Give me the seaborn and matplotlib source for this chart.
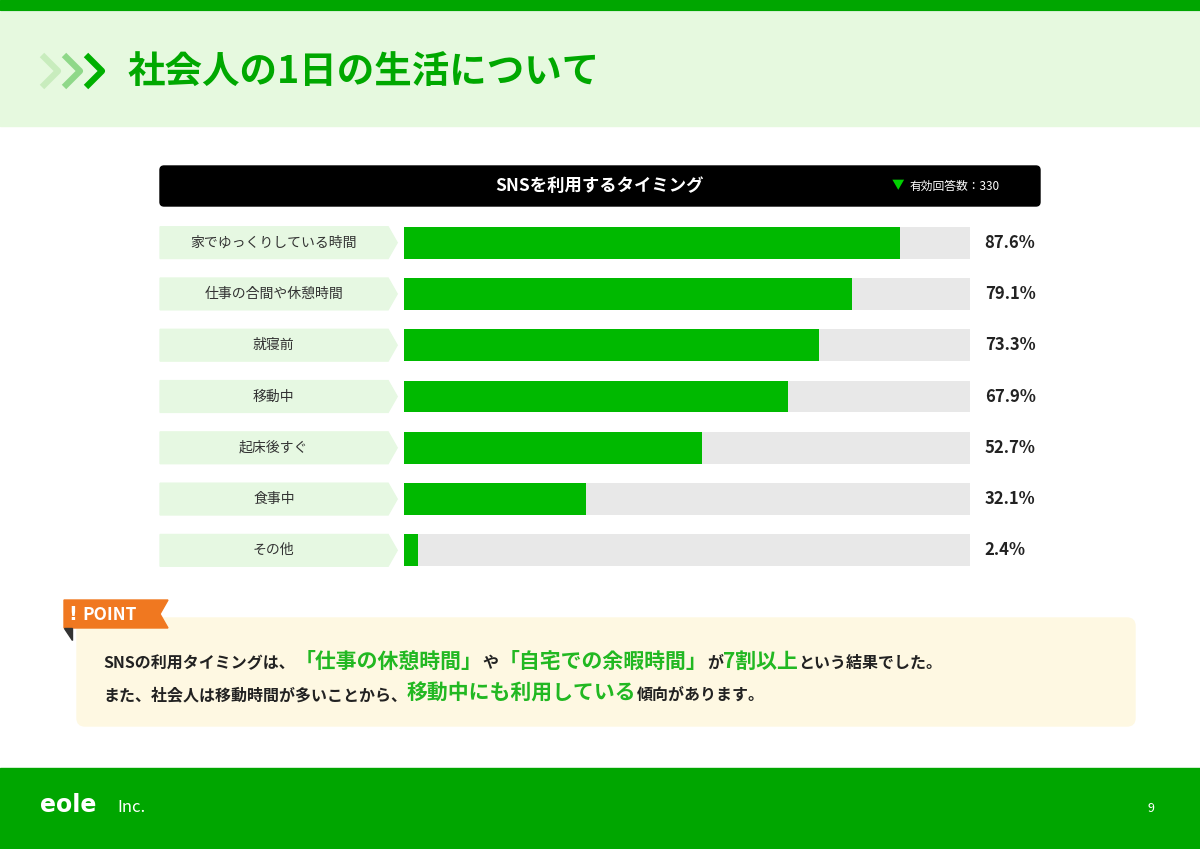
import matplotlib
matplotlib.use("Agg")
import matplotlib.pyplot as plt
from matplotlib.patches import Rectangle, FancyBboxPatch, Polygon
import seaborn as sns
import pandas as pd

# データ
categories = ['家でゆっくりしている時間', '仕事の合間や休憩時間', '就寝前', '移動中',
              '起床後すぐ', '食事中', 'その他']
values = [87.6, 79.1, 73.3, 67.9, 52.7, 32.1, 2.4]
title = '社会人の1日の生活について'
chart_title = 'SNSを利用するタイミング'
n_answers = '有効回答数：330'

plt.rcParams['font.family'] = 'Noto Sans CJK JP'
GREEN = '#00b900'
DARK = '#00a600'

fig = plt.figure(figsize=(12, 8.49), dpi=100)

# 背景・装飾用の全面axes（ピクセル座標）
bg = fig.add_axes([0, 0, 1, 1])
bg.set_xlim(0, 1200)
bg.set_ylim(849, 0)
bg.axis('off')
bg.add_patch(Rectangle((0, 0), 1200, 10, color=DARK))
bg.add_patch(Rectangle((0, 12), 1200, 114, color='#e6f9df'))
for i, c in enumerate(['#c8ecbd', '#8fd889', '#00b000']):
    x0 = 42 + i * 22
    bg.plot([x0, x0 + 16, x0], [55, 71, 87], color=c, lw=4.5, solid_capstyle='butt')
bg.text(128, 72, title, fontsize=27, fontweight='bold', color='#00a800', va='center')

# グラフタイトル
bg.add_patch(FancyBboxPatch((160, 166), 880, 40, boxstyle='round,pad=0,rounding_size=4',
                            color='black'))
bg.text(600, 186, chart_title, color='white', fontsize=12.5, fontweight='bold',
        ha='center', va='center')
bg.text(898, 186, '▼', color='#00d000', fontsize=9, ha='center', va='center')
bg.text(910, 186, n_answers, color='white', fontsize=8.5, va='center')

# POINT
bg.add_patch(FancyBboxPatch((77, 618), 1058, 108, boxstyle='round,pad=0,rounding_size=8',
                            color='#fef8e2'))
bg.add_patch(Polygon([[64, 600], [168, 600], [160, 614], [168, 628], [64, 628]],
                     closed=True, color='#f07820'))
bg.add_patch(Polygon([[64, 628], [72, 628], [72, 640]], closed=True, color='#333333'))
bg.text(68, 615, '!', color='white', fontsize=14, fontweight='bold', va='center',
        family='DejaVu Sans')
bg.text(82, 615, 'POINT', color='white', fontsize=12.5, fontweight='bold', va='center')

fig.canvas.draw()
renderer = fig.canvas.get_renderer()


def rich_line(x, y, parts):
    for s, col, size in parts:
        t = bg.text(x, y, s, color=col, fontsize=size, fontweight='bold', va='baseline')
        bb = t.get_window_extent(renderer)
        x += bb.width


rich_line(103, 668, [('SNSの利用タイミングは、', '#222222', 11.5),
                     ('「仕事の休憩時間」', '#22b822', 15),
                     ('や', '#222222', 11.5),
                     ('「自宅での余暇時間」', '#22b822', 15),
                     ('が', '#222222', 11.5),
                     ('7割以上', '#22b822', 15),
                     ('という結果でした。', '#222222', 11.5)])
rich_line(103, 700, [('また、社会人は移動時間が多いことから、', '#222222', 11.5),
                     ('移動中にも利用している', '#22b822', 15),
                     ('傾向があります。', '#222222', 11.5)])

# フッター
bg.add_patch(Rectangle((0, 768), 1200, 81, color=DARK))
bg.text(40, 805, 'eole', color='white', fontsize=17, fontweight='bold', va='center',
        family='DejaVu Sans')
bg.text(117, 807, 'Inc.', color='white', fontsize=12, va='center')
bg.text(1148, 808, '9', color='white', fontsize=9, va='center')

# 棒グラフ
ax = fig.add_axes([404 / 1200, 1 - 576 / 849, 566 / 1200, 359 / 849])
df = pd.DataFrame({'category': categories, 'value': values})
ax.barh(range(len(categories)), [100] * len(categories), height=0.62, color='#e8e8e8')
sns.barplot(data=df, x='value', y='category', orient='h', color=GREEN, width=0.62,
            saturation=1, ax=ax)
ax.set_xlim(0, 100)
ax.set_ylim(len(categories) - 0.5, -0.5)
ax.axis('off')
for i, (c, v) in enumerate(zip(categories, values)):
    ax.add_patch(Polygon([[-43.1, i - 0.31], [-2.8, i - 0.31], [-1.2, i], [-2.8, i + 0.31],
                          [-43.1, i + 0.31]], closed=True, color='#e6f8e2', clip_on=False))
    ax.text(-23, i, c, ha='center', va='center', fontsize=10, color='#333333', clip_on=False)
    ax.text(102.6, i, f'{v}%', ha='left', va='center', fontsize=12, fontweight='bold',
            color='#222222', clip_on=False)

fig.savefig('out.png', dpi=100)
